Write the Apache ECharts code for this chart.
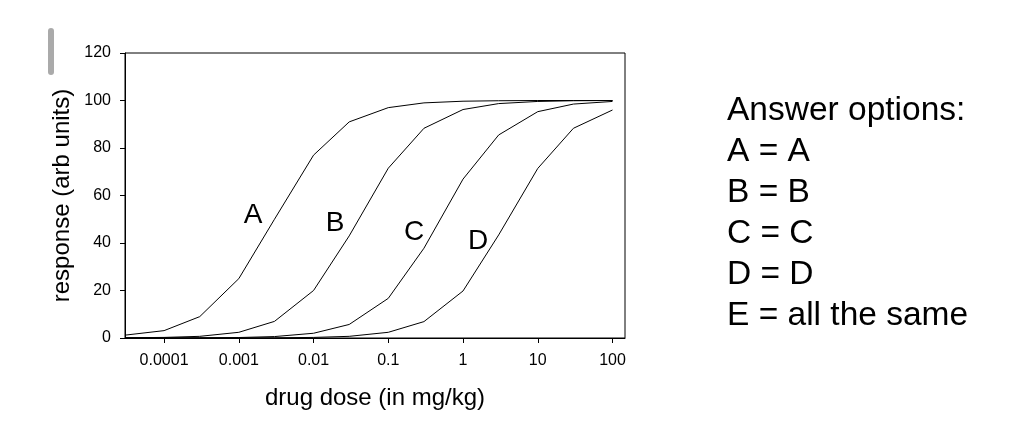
<!DOCTYPE html>
<html>
<head>
<meta charset="utf-8">
<script src="https://cdn.jsdelivr.net/npm/echarts@6/dist/echarts.min.js"></script>
<style>
  html, body { margin: 0; padding: 0; background: #fff; }
  #chart { width: 1036px; height: 446px; }
</style>
</head>
<body>
<div id="chart"></div>
<script>
// dose in mg/kg, half-log steps
var doses = [0.00003, 0.0001, 0.0003, 0.001, 0.003, 0.01, 0.03, 0.1, 0.3, 1, 3, 10, 30, 100];
// response (arb units)
var curveA = [1.2, 3.1, 9, 25, 50, 77, 91, 97, 99, 99.7, 99.9, 100, 100, 100];
var curveB = [0.1, 0.25, 0.7, 2.4, 7, 20, 43, 71.5, 88.3, 96.2, 98.7, 99.6, 99.9, 100];
var curveC = [0, 0.02, 0.06, 0.2, 0.6, 2, 5.7, 16.7, 37.8, 66.9, 85.5, 95.3, 98.5, 99.6];
var curveD = [0, 0, 0.01, 0.03, 0.07, 0.25, 0.7, 2.4, 6.9, 19.8, 43.4, 71.4, 88.3, 96];
var curveNames = ['A', 'B', 'C', 'D'];

var xTicks = [0.0001, 0.001, 0.01, 0.1, 1, 10, 100];
var xTickLabels = ['0.0001', '0.001', '0.01', '0.1', '1', '10', '100'];

var answerLines = ['Answer options:', 'A = A', 'B = B', 'C = C', 'D = D', 'E = all the same'];

var font = 'Liberation Sans, Arial, sans-serif';

function pairs(ys) {
  return doses.map(function (d, i) { return [d, ys[i]]; });
}

function lineSeries(name, ys) {
  return {
    name: name,
    type: 'line',
    data: pairs(ys),
    showSymbol: false,
    symbol: 'none',
    lineStyle: { color: '#000', width: 1 },
    silent: true
  };
}

// curve letters, placed by pixel next to each curve
function letter(txt, x, y) {
  return {
    type: 'text', x: x, y: y,
    style: { text: txt, font: '28px ' + font, fill: '#000', textAlign: 'center', textVerticalAlign: 'middle' }
  };
}

var myChart = echarts.init(document.getElementById('chart'));
var option = {
  animation: false,
  backgroundColor: '#fff',
  grid: {
    left: 125, right: 411, top: 53, bottom: 108,
    show: true, borderColor: '#000', borderWidth: 1
  },
  xAxis: {
    type: 'log',
    min: 0.00003,
    max: 147,
    name: 'drug dose (in mg/kg)',
    nameLocation: 'middle',
    nameGap: 48,
    nameTextStyle: { fontFamily: font, fontSize: 24, color: '#000' },
    axisLine: { lineStyle: { color: '#000', width: 1 } },
    axisTick: { customValues: xTicks, length: 5, lineStyle: { color: '#000' } },
    axisLabel: {
      customValues: xTicks,
      margin: 15,
      fontFamily: font, fontSize: 16, color: '#000',
      formatter: function (v) {
        for (var i = 0; i < xTicks.length; i++) {
          if (Math.abs(Math.log10(xTicks[i]) - Math.log10(v)) < 1e-6) return xTickLabels[i];
        }
        return '';
      }
    },
    splitLine: { show: false }
  },
  yAxis: {
    type: 'value',
    min: 0,
    max: 120,
    interval: 20,
    name: 'response (arb units)',
    nameLocation: 'middle',
    nameGap: 51,
    nameTextStyle: { fontFamily: font, fontSize: 24, color: '#000' },
    axisLine: { show: true, lineStyle: { color: '#000', width: 1 } },
    axisTick: { show: true, length: 5, lineStyle: { color: '#000' } },
    axisLabel: { margin: 14, fontFamily: font, fontSize: 16, color: '#000' },
    splitLine: { show: false }
  },
  series: [
    lineSeries('A', curveA),
    lineSeries('B', curveB),
    lineSeries('C', curveC),
    lineSeries('D', curveD)
  ],
  graphic: [
    { type: 'rect', left: 48, top: 28, shape: { width: 6, height: 47, r: 3 }, style: { fill: '#aaaaaa' } },
    letter(curveNames[0], 253, 215),
    letter(curveNames[1], 335, 223),
    letter(curveNames[2], 414, 232),
    letter(curveNames[3], 478, 241),
    {
      type: 'text', left: 727, top: 90,
      style: { text: answerLines.join('\n'), font: '33.5px ' + font, lineHeight: 41, fill: '#000' }
    }
  ]
};
option && myChart.setOption(option);
</script>
</body>
</html>
